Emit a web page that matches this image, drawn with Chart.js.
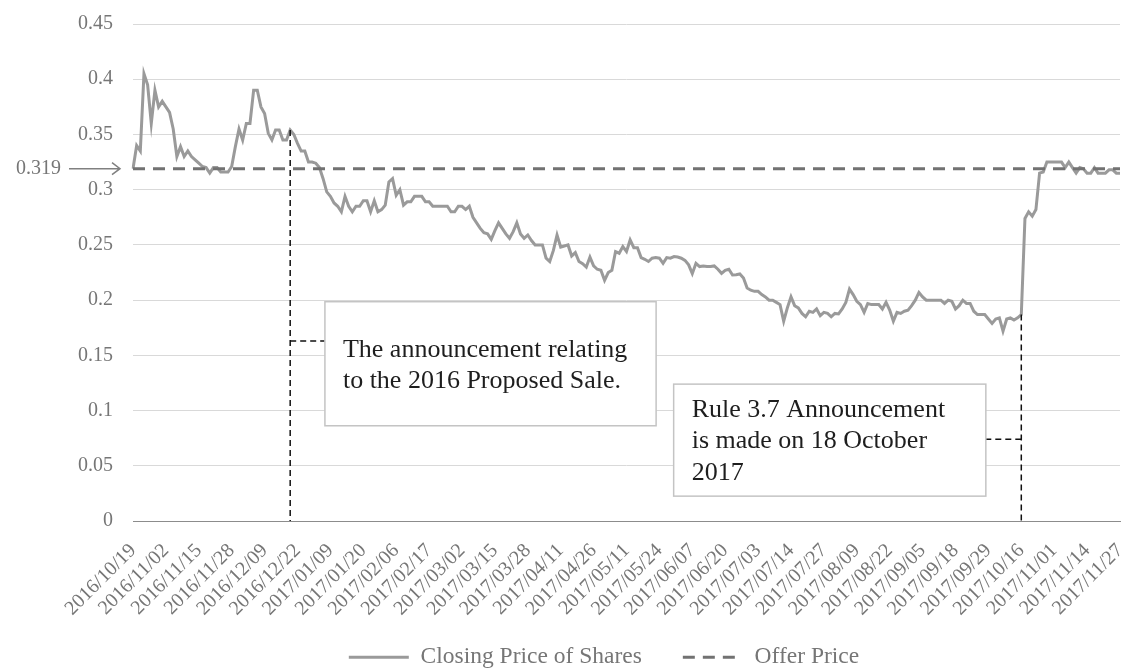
<!DOCTYPE html>
<html>
<head>
<meta charset="utf-8">
<script src="https://cdn.jsdelivr.net/npm/chart.js@4.4.1/dist/chart.umd.min.js"></script>
<style>
    html, body { margin: 0; padding: 0; background: #fff; }
</style>
</head>
<body>
<canvas id="price-graph" width="1122" height="668"></canvas>
<script>
// tick labels, one every 9 trading days
var tickLabels = [
    "2016/10/19", "2016/11/02", "2016/11/15", "2016/11/28", "2016/12/09", "2016/12/22",
    "2017/01/09", "2017/01/20", "2017/02/06", "2017/02/17", "2017/03/02", "2017/03/15",
    "2017/03/28", "2017/04/11", "2017/04/26", "2017/05/11", "2017/05/24", "2017/06/07",
    "2017/06/20", "2017/07/03", "2017/07/14", "2017/07/27", "2017/08/09", "2017/08/22",
    "2017/09/05", "2017/09/18", "2017/09/29", "2017/10/16", "2017/11/01", "2017/11/14",
    "2017/11/27"
];
var tickEvery = 9;

// closing price per trading day (HK$)
var closingPrice = [
    0.319, 0.34, 0.335, 0.405, 0.395, 0.36, 0.39, 0.375, 0.38, 0.375,
    0.37, 0.355, 0.33, 0.339, 0.33, 0.335, 0.33, 0.327, 0.324, 0.321,
    0.32, 0.315, 0.32, 0.32, 0.316, 0.316, 0.316, 0.321, 0.339, 0.355,
    0.345, 0.36, 0.36, 0.39, 0.39, 0.375, 0.369, 0.351, 0.345, 0.354,
    0.354, 0.345, 0.345, 0.354, 0.35, 0.342, 0.335, 0.335, 0.325, 0.325,
    0.324, 0.32, 0.31, 0.298, 0.294, 0.288, 0.285, 0.28, 0.294, 0.285,
    0.28, 0.285, 0.285, 0.29, 0.29, 0.28, 0.29, 0.28, 0.282, 0.286,
    0.307, 0.31, 0.295, 0.30, 0.286, 0.289, 0.289, 0.294, 0.294, 0.294,
    0.289, 0.289, 0.285, 0.285, 0.285, 0.285, 0.285, 0.28, 0.28, 0.285,
    0.285, 0.282, 0.285, 0.275, 0.27, 0.265, 0.261, 0.26, 0.255, 0.263,
    0.27, 0.265, 0.26, 0.256, 0.262, 0.27, 0.26, 0.256, 0.259, 0.254,
    0.25, 0.25, 0.25, 0.238, 0.235, 0.245, 0.259, 0.248, 0.249, 0.25,
    0.24, 0.243, 0.235, 0.233, 0.23, 0.239, 0.231, 0.228, 0.227, 0.218,
    0.225, 0.227, 0.244, 0.2425, 0.2485, 0.244, 0.2545, 0.2475, 0.2475, 0.2385,
    0.237, 0.235, 0.238, 0.2385, 0.238, 0.2334, 0.2385, 0.238, 0.2395, 0.239,
    0.238, 0.236, 0.232, 0.224, 0.2334, 0.2304, 0.231, 0.2304, 0.2304, 0.231,
    0.228, 0.2243, 0.227, 0.228, 0.2228, 0.223, 0.2237, 0.22, 0.211, 0.209,
    0.208, 0.208, 0.205, 0.203, 0.2, 0.2, 0.198, 0.196, 0.181, 0.193,
    0.203, 0.195, 0.193, 0.188, 0.185, 0.19, 0.189, 0.192, 0.186, 0.189,
    0.188, 0.185, 0.188, 0.1875, 0.192, 0.198, 0.21, 0.205, 0.199, 0.196,
    0.189, 0.197, 0.196, 0.196, 0.196, 0.192, 0.198, 0.191, 0.181, 0.189,
    0.188, 0.19, 0.191, 0.195, 0.2, 0.207, 0.203, 0.2, 0.2, 0.2,
    0.2, 0.2, 0.197, 0.2, 0.199, 0.192, 0.195, 0.2, 0.197, 0.197,
    0.19, 0.187, 0.187, 0.187, 0.183, 0.179, 0.183, 0.184, 0.172, 0.183,
    0.184, 0.182, 0.184, 0.187, 0.274, 0.28, 0.276, 0.282, 0.315, 0.316,
    0.325, 0.325, 0.325, 0.325, 0.325, 0.32, 0.325, 0.32, 0.315, 0.32,
    0.319, 0.315, 0.315, 0.32, 0.315, 0.315, 0.315, 0.318, 0.318, 0.315,
    0.315
];
var offerPrice = 0.319;

// announcement call-outs (index of trading day, box corners in index / price units)
var notes = [
    { idx: 43, linkY: 0.163, x0: 52.5, x1: 143.1, y0: 0.1986, y1: 0.0863, textDy: 48,
      text: ["The announcement relating", "to the 2016 Proposed Sale."] },
    { idx: 243, linkY: 0.074, x0: 147.9, x1: 233.3, y0: 0.124, y1: 0.0226, textDy: 26,
      text: ["Rule 3.7 Announcement", "is made on 18 October", "2017"] }
];

var labels = closingPrice.map(function (v, i) {
    return i % tickEvery === 0 ? tickLabels[i / tickEvery] : "";
});
var offerLine = closingPrice.map(function () { return offerPrice; });

var serif = "'Liberation Serif', 'Times New Roman', serif";
var grey = "#767676";

var notesPlugin = {
    id: "notes",
    afterLayout: function (chart) {
        // legend sits a little right of centre in the original, pull it back on canvas
        chart.legend.left += 15;
        chart.legend.right += 15;
        chart.legend.top -= 26;
        chart.legend.bottom -= 26;
    },
    afterDraw: function (chart) {
        var ctx = chart.ctx, xs = chart.scales.x, ys = chart.scales.y;
        var left = chart.chartArea.left;
        var yOffer = ys.getPixelForValue(offerPrice);
        ctx.save();

        // 0.319 label with arrow
        ctx.fillStyle = grey;
        ctx.font = "20px " + serif;
        ctx.textAlign = "right";
        ctx.textBaseline = "middle";
        ctx.fillText(String(offerPrice), left - 72, yOffer);
        ctx.strokeStyle = "#808080";
        ctx.lineWidth = 1.5;
        ctx.beginPath();
        ctx.moveTo(left - 64, yOffer);
        ctx.lineTo(left - 13, yOffer);
        ctx.moveTo(left - 21, yOffer - 6);
        ctx.lineTo(left - 13, yOffer);
        ctx.lineTo(left - 21, yOffer + 6);
        ctx.stroke();

        notes.forEach(function (n) {
            var x = xs.getPixelForValue(n.idx);
            var bx0 = xs.getPixelForValue(n.x0), bx1 = xs.getPixelForValue(n.x1);
            var by0 = ys.getPixelForValue(n.y0), by1 = ys.getPixelForValue(n.y1);
            var ly = ys.getPixelForValue(n.linkY);

            // drop line and link to the box
            ctx.strokeStyle = "#111";
            ctx.lineWidth = 1.5;
            ctx.setLineDash([6, 4]);
            ctx.beginPath();
            ctx.moveTo(x, ys.getPixelForValue(closingPrice[n.idx]));
            ctx.lineTo(x, ys.getPixelForValue(0));
            ctx.moveTo(x, ly);
            ctx.lineTo(bx0 > x ? bx0 : bx1, ly);
            ctx.stroke();
            ctx.setLineDash([]);

            // box
            ctx.fillStyle = "#fff";
            ctx.fillRect(bx0, by0, bx1 - bx0, by1 - by0);
            ctx.strokeStyle = "#c4c4c4";
            ctx.lineWidth = 1.5;
            ctx.strokeRect(bx0, by0, bx1 - bx0, by1 - by0);

            ctx.fillStyle = "#1e1e1e";
            ctx.font = "26px " + serif;
            ctx.textAlign = "left";
            ctx.textBaseline = "middle";
            n.text.forEach(function (t, k) {
                ctx.fillText(t, bx0 + 18, by0 + n.textDy + k * 31.5);
            });
        });
        ctx.restore();
    }
};

var ctx = document.getElementById("price-graph").getContext("2d");
new Chart(ctx, {
    type: "line",
    data: {
        labels: labels,
        datasets: [
            {
                label: "Closing Price of Shares",
                data: closingPrice,
                borderColor: "#9a9a9a",
                backgroundColor: "#9a9a9a",
                borderWidth: 3,
                pointRadius: 0,
                tension: 0,
                order: 1
            },
            {
                label: "Offer Price",
                data: offerLine,
                borderColor: "#727272",
                backgroundColor: "#727272",
                borderWidth: 3,
                borderDash: [12, 8],
                pointRadius: 0,
                order: 0
            }
        ]
    },
    options: {
        responsive: false,
        animation: false,
        devicePixelRatio: 1,
        layout: { padding: { left: 58, right: 2, top: 24, bottom: -37 } },
        plugins: {
            tooltip: { enabled: false },
            legend: {
                position: "bottom",
                labels: {
                    usePointStyle: true,
                    pointStyle: "line",
                    pointStyleWidth: 60,
                    padding: 41,
                    color: grey,
                    font: { family: serif, size: 23.5 },
                    sort: function (a, b) { return a.datasetIndex - b.datasetIndex; },
                    generateLabels: function (chart) {
                        var items = Chart.defaults.plugins.legend.labels.generateLabels(chart);
                        items.forEach(function (it) {
                            var ds = chart.data.datasets[it.datasetIndex];
                            it.lineDash = ds.borderDash || [];
                            it.lineWidth = ds.borderWidth;
                            it.strokeStyle = ds.borderColor;
                        });
                        return items;
                    }
                }
            }
        },
        scales: {
            x: {
                grid: { display: false },
                border: { display: true, color: "#8c8c8c", width: 1 },
                afterFit: function (scale) {
                    scale.paddingLeft = 0;
                    scale.paddingRight = 0;
                },
                ticks: {
                    autoSkip: false,
                    maxRotation: 45,
                    minRotation: 45,
                    padding: 10,
                    color: grey,
                    font: { family: serif, size: 20 }
                }
            },
            y: {
                min: 0,
                max: 0.45,
                grid: { color: "#d9d9d9", lineWidth: 1, drawTicks: false },
                border: { display: false },
                afterFit: function (scale) {
                    scale.paddingTop = 0;
                    scale.paddingBottom = 0;
                },
                ticks: {
                    stepSize: 0.05,
                    padding: 20,
                    color: grey,
                    font: { family: serif, size: 20 },
                    callback: function (v) { return String(+v.toFixed(2)); }
                }
            }
        }
    },
    plugins: [notesPlugin]
});
</script>
</body>
</html>
